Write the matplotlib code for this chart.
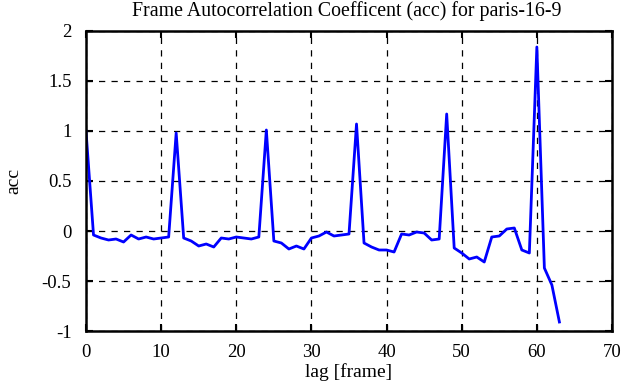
import matplotlib
matplotlib.use("Agg")
import matplotlib.pyplot as plt
import numpy as np

lag = list(range(64))
acc = [1.00, -0.04, -0.07, -0.09, -0.08, -0.11, -0.04, -0.08, -0.06, -0.08,
       -0.07, -0.06, 0.98, -0.07, -0.10, -0.15, -0.13, -0.16, -0.07, -0.08,
       -0.06, -0.07, -0.08, -0.06, 1.01, -0.10, -0.12, -0.18, -0.15, -0.18,
       -0.07, -0.05, -0.01, -0.05, -0.04, -0.03, 1.07, -0.12, -0.16, -0.19,
       -0.19, -0.21, -0.03, -0.04, -0.01, -0.02, -0.09, -0.08, 1.17, -0.17,
       -0.22, -0.28, -0.26, -0.31, -0.06, -0.05, 0.02, 0.03, -0.19, -0.22,
       1.84, -0.37, -0.54, -0.91]
xticks = [0, 10, 20, 30, 40, 50, 60, 70]
yticks = [-1, -0.5, 0, 0.5, 1, 1.5, 2]
ytick_labels = ["-1", "-0.5", "0", "0.5", "1", "1.5", "2"]
title = 'Frame Autocorrelation Coefficent (acc) for paris-16-9'

plt.rcParams['font.family'] = ['Liberation Serif', 'DejaVu Serif']
W, H = 625, 387
fig = plt.figure(figsize=(6.25, 3.87), dpi=100)
ax = fig.add_axes([0.1376, 0.1447, 0.8416, 0.7752])
ax.plot(lag, acc, color='#0000ff', linewidth=2)
ax.set_xlim(0, 70)
ax.set_ylim(-1, 2)
ax.set_xticks(xticks)
ax.set_xticklabels([str(t) for t in xticks])
ax.set_yticks(yticks)
ax.set_yticklabels(ytick_labels)
ax.grid(True, color='black', linestyle=(0, (5, 5)), linewidth=0.9)
ax.tick_params(direction='in', length=5, width=1.5, top=True, right=True,
               labelsize=13.5, colors='black')
ax.tick_params(axis='y', pad=10.5)
ax.tick_params(axis='x', pad=9)
for s in ax.spines.values():
    s.set_linewidth(1.8)
ax.set_xlabel('lag [frame]', fontsize=14, labelpad=2)
ax.set_ylabel('acc', fontsize=14, labelpad=14)

# title: fit to the reference's width (about 431 px), centred near x=346 px
t = fig.text(346.5 / W, 1 - 16.0 / H, title, fontsize=15, ha='center', va='baseline')
renderer = fig.canvas.get_renderer()
w = t.get_window_extent(renderer).width
t.set_fontsize(15 * 431.0 / w)
fig.savefig('out.png', dpi=100)
